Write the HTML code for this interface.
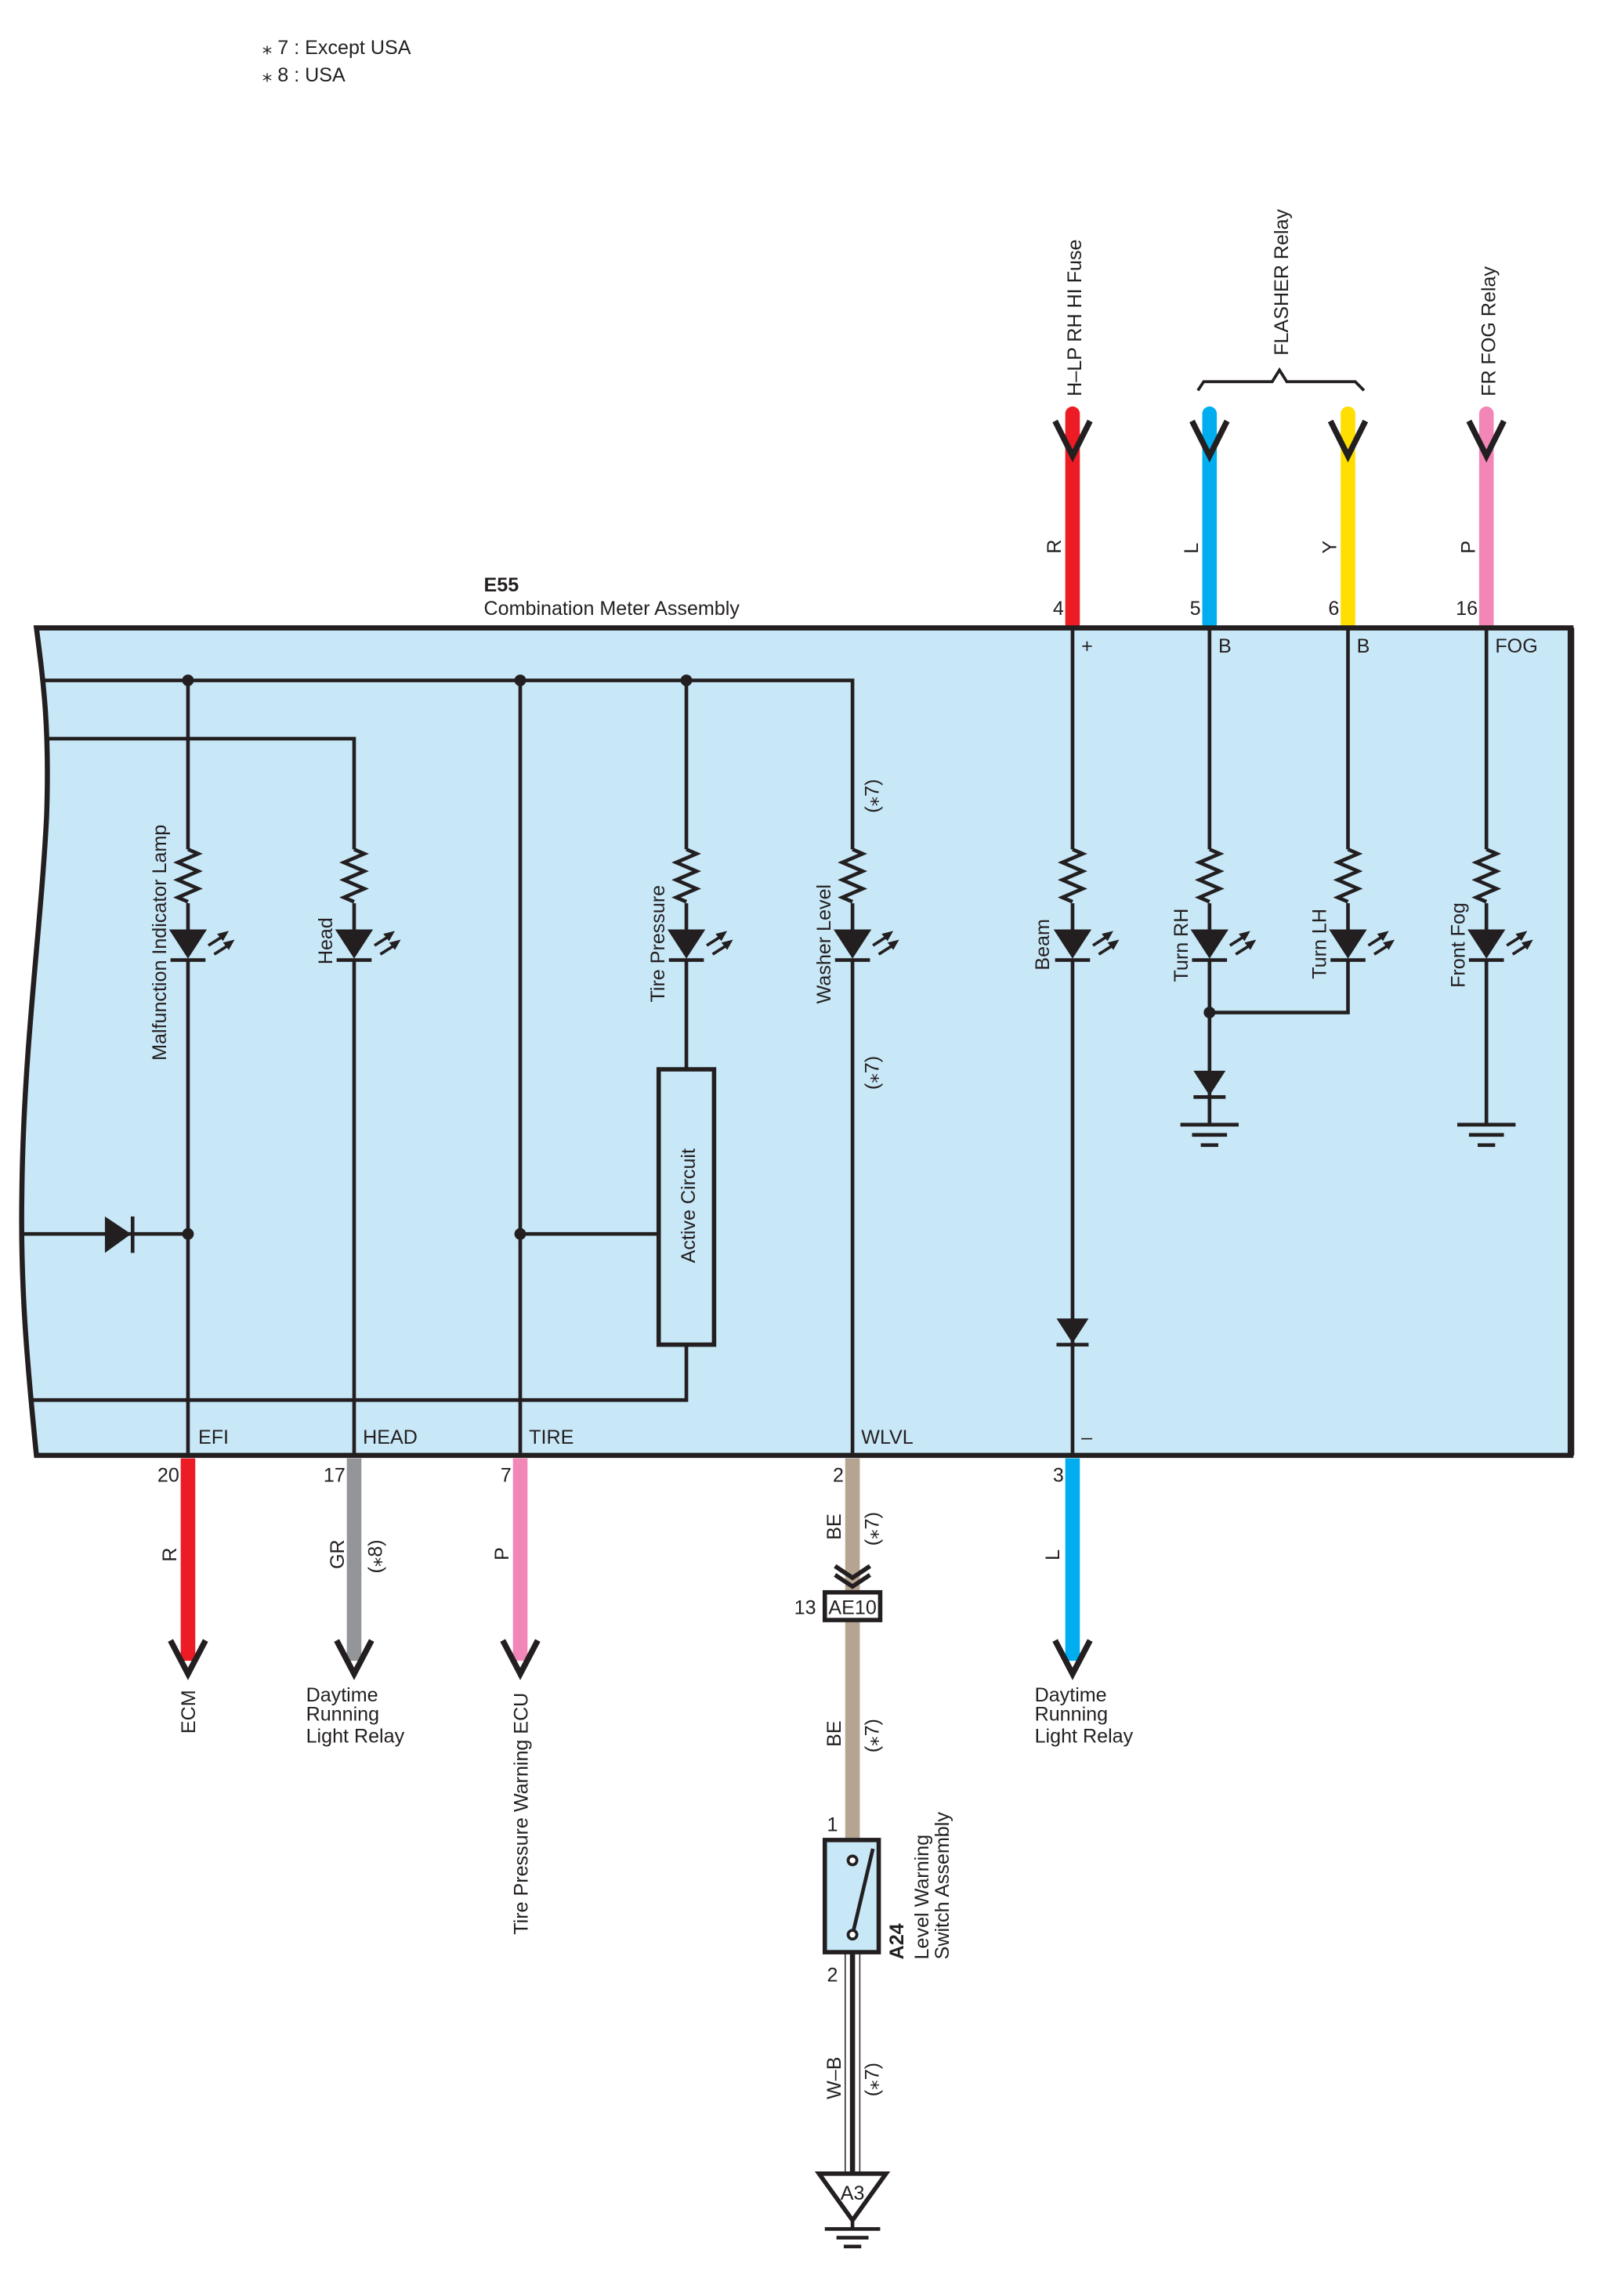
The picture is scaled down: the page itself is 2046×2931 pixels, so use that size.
<!DOCTYPE html>
<html><head><meta charset="utf-8"><style>
html,body{margin:0;padding:0;background:#fff;width:2046px;height:2931px;overflow:hidden}
svg{display:block}
text{font-family:"Liberation Sans",sans-serif;font-size:13.5px;fill:#231f20}
</style></head><body>
<svg width="2046" height="2931" viewBox="0 0 1100 1576" preserveAspectRatio="none" xmlns="http://www.w3.org/2000/svg">
<defs>
<path id="res" d="M0,0 l7,3 l-14,6 l14,6 l-14,6 l14,6 l-14,6 l7,3" fill="none" stroke="#231f20" stroke-width="2.5"/>
<g id="led">
<polygon points="-13,0 13,0 0,20" fill="#231f20"/>
<line x1="-12" y1="21" x2="12" y2="21" stroke="#231f20" stroke-width="2.5"/>
<line x1="14" y1="11" x2="25" y2="4" stroke="#231f20" stroke-width="2"/>
<polygon points="28,1 20,3 24,8" fill="#231f20"/>
<line x1="18" y1="17" x2="29" y2="10" stroke="#231f20" stroke-width="2"/>
<polygon points="32,7 24,9 28,14" fill="#231f20"/>
</g>
<g id="diode">
<polygon points="-11,0 11,0 0,17" fill="#231f20"/>
<line x1="-11" y1="18" x2="11" y2="18" stroke="#231f20" stroke-width="2.5"/>
</g>
<g id="gnd" stroke="#231f20" stroke-width="2.5">
<line x1="-20" y1="0" x2="20" y2="0"/><line x1="-12" y1="7" x2="12" y2="7"/><line x1="-6" y1="14" x2="6" y2="14"/>
</g>
<path id="vtop" d="M-12,289 L0,313 L12,289" fill="none" stroke="#231f20" stroke-width="4"/>
<path id="vbot" d="M-12,1126 L0,1149 L12,1126" fill="none" stroke="#231f20" stroke-width="4"/>
</defs>

<text x="180" y="37">⁎ 7 : Except USA</text>
<text x="180" y="56">⁎ 8 : USA</text>

<!-- top wires -->
<g stroke-linecap="round" stroke-width="10">
<line x1="736" y1="284" x2="736" y2="428" stroke="#ed1c24"/>
<line x1="830" y1="284" x2="830" y2="428" stroke="#00aeef"/>
<line x1="925" y1="284" x2="925" y2="428" stroke="#ffde00"/>
<line x1="1020" y1="284" x2="1020" y2="428" stroke="#f287b7"/>
</g>
<use href="#vtop" x="736"/><use href="#vtop" x="830"/><use href="#vtop" x="925"/><use href="#vtop" x="1020"/>
<path d="M822,268 L826,262 L873,262 L878,254 L883,262 L930,262 L936,268" fill="none" stroke="#231f20" stroke-width="2"/>
<text transform="translate(742,272) rotate(-90)">H–LP RH HI Fuse</text>
<text transform="translate(884,244) rotate(-90)">FLASHER Relay</text>
<text transform="translate(1026,272) rotate(-90)">FR FOG Relay</text>
<text transform="translate(728,380) rotate(-90)">R</text>
<text transform="translate(822,380) rotate(-90)">L</text>
<text transform="translate(917,380) rotate(-90)">Y</text>
<text transform="translate(1012,380) rotate(-90)">P</text>
<text x="730" y="422" text-anchor="end">4</text>
<text x="824" y="422" text-anchor="end">5</text>
<text x="919" y="422" text-anchor="end">6</text>
<text x="1014" y="422" text-anchor="end">16</text>
<text x="332" y="406" font-weight="bold">E55</text>
<text x="332" y="422">Combination Meter Assembly</text>

<!-- bottom wires -->
<g stroke-width="10">
<line x1="129" y1="1001" x2="129" y2="1140" stroke="#ed1c24"/>
<line x1="243" y1="1001" x2="243" y2="1140" stroke="#939598"/>
<line x1="357" y1="1001" x2="357" y2="1140" stroke="#f287b7"/>
<line x1="585" y1="1001" x2="585" y2="1265" stroke="#b5a491"/>
<line x1="736" y1="1001" x2="736" y2="1140" stroke="#00aeef"/>
</g>
<use href="#vbot" x="129"/><use href="#vbot" x="243"/><use href="#vbot" x="357"/><use href="#vbot" x="736"/>

<!-- box -->
<path d="M25,431 L1078,431 L1078,999 L25,999 C18,930 14,880 15,820 C16,720 28,640 32,560 C34,500 30,470 25,431 Z" fill="#c8e8f8" stroke="#231f20" stroke-width="3.5"/>
<line x1="1078" y1="431" x2="1078" y2="999" stroke="#231f20" stroke-width="4.5"/>

<g stroke="#231f20" stroke-width="2.5" fill="none">
<!-- buses -->
<polyline points="30,467 585,467 585,583"/>
<polyline points="33,507 243,507 243,583"/>
<polyline points="20,961 471,961 471,923"/>
<line x1="15" y1="847" x2="129" y2="847"/>
<line x1="357" y1="847" x2="452" y2="847"/>
<!-- columns -->
<line x1="129" y1="467" x2="129" y2="583"/><line x1="129" y1="620" x2="129" y2="640"/><line x1="129" y1="658" x2="129" y2="999"/>
<line x1="243" y1="620" x2="243" y2="640"/><line x1="243" y1="658" x2="243" y2="999"/>
<line x1="357" y1="467" x2="357" y2="999"/>
<line x1="471" y1="467" x2="471" y2="583"/><line x1="471" y1="620" x2="471" y2="640"/><line x1="471" y1="658" x2="471" y2="734"/>
<line x1="585" y1="620" x2="585" y2="640"/><line x1="585" y1="658" x2="585" y2="999"/>
<line x1="736" y1="431" x2="736" y2="583"/><line x1="736" y1="620" x2="736" y2="640"/><line x1="736" y1="658" x2="736" y2="999"/>
<line x1="830" y1="431" x2="830" y2="583"/><line x1="830" y1="620" x2="830" y2="640"/><line x1="830" y1="658" x2="830" y2="772"/>
<line x1="925" y1="431" x2="925" y2="583"/><line x1="925" y1="620" x2="925" y2="640"/><polyline points="925,658 925,695 830,695"/>
<line x1="1020" y1="431" x2="1020" y2="583"/><line x1="1020" y1="620" x2="1020" y2="640"/><line x1="1020" y1="658" x2="1020" y2="772"/>
<rect x="452" y="734" width="38" height="189" stroke-width="3"/>
</g>
<use href="#res" x="129" y="583"/><use href="#res" x="243" y="583"/><use href="#res" x="471" y="583"/><use href="#res" x="585" y="583"/>
<use href="#res" x="736" y="583"/><use href="#res" x="830" y="583"/><use href="#res" x="925" y="583"/><use href="#res" x="1020" y="583"/>
<use href="#led" x="129" y="638"/><use href="#led" x="243" y="638"/><use href="#led" x="471" y="638"/><use href="#led" x="585" y="638"/>
<use href="#led" x="736" y="638"/><use href="#led" x="830" y="638"/><use href="#led" x="925" y="638"/><use href="#led" x="1020" y="638"/>
<use href="#diode" x="736" y="905"/><use href="#diode" x="830" y="735"/>
<use href="#gnd" x="830" y="772"/><use href="#gnd" x="1020" y="772"/>
<polygon points="72,835 72,860 90,847" fill="#231f20"/>
<line x1="91" y1="835" x2="91" y2="860" stroke="#231f20" stroke-width="2.5"/>
<g fill="#231f20">
<circle cx="129" cy="467" r="4"/><circle cx="357" cy="467" r="4"/><circle cx="471" cy="467" r="4"/>
<circle cx="129" cy="847" r="4"/><circle cx="357" cy="847" r="4"/><circle cx="830" cy="695" r="4"/>
</g>

<text transform="translate(114,728) rotate(-90)">Malfunction Indicator Lamp</text>
<text transform="translate(228,662) rotate(-90)">Head</text>
<text transform="translate(456,688) rotate(-90)">Tire Pressure</text>
<text transform="translate(570,689) rotate(-90)">Washer Level</text>
<text transform="translate(603,558) rotate(-90)">(⁎7)</text>
<text transform="translate(603,748) rotate(-90)">(⁎7)</text>
<text transform="translate(720,666) rotate(-90)">Beam</text>
<text transform="translate(815,674) rotate(-90)">Turn RH</text>
<text transform="translate(910,672) rotate(-90)">Turn LH</text>
<text transform="translate(1005,678) rotate(-90)">Front Fog</text>
<text transform="translate(477,867) rotate(-90)">Active Circuit</text>
<text x="742" y="448">+</text>
<text x="836" y="448">B</text>
<text x="931" y="448">B</text>
<text x="1026" y="448">FOG</text>
<text x="136" y="991">EFI</text>
<text x="249" y="991">HEAD</text>
<text x="363" y="991">TIRE</text>
<text x="591" y="991">WLVL</text>
<text x="742" y="991">–</text>

<!-- bottom labels -->
<text x="123" y="1017" text-anchor="end">20</text>
<text x="237" y="1017" text-anchor="end">17</text>
<text x="351" y="1017" text-anchor="end">7</text>
<text x="579" y="1017" text-anchor="end">2</text>
<text x="730" y="1017" text-anchor="end">3</text>
<text transform="translate(121,1072) rotate(-90)">R</text>
<text transform="translate(236,1077) rotate(-90)">GR</text>
<text transform="translate(262,1080) rotate(-90)">(⁎8)</text>
<text transform="translate(349,1071) rotate(-90)">P</text>
<text transform="translate(727,1071) rotate(-90)">L</text>
<text transform="translate(134,1190) rotate(-90)">ECM</text>
<text transform="translate(362,1328) rotate(-90)">Tire Pressure Warning ECU</text>
<text x="210" y="1168">Daytime</text><text x="210" y="1181">Running</text><text x="210" y="1196">Light Relay</text>
<text x="710" y="1168">Daytime</text><text x="710" y="1181">Running</text><text x="710" y="1196">Light Relay</text>

<!-- BE path -->
<text transform="translate(577,1057) rotate(-90)">BE</text>
<text transform="translate(603,1061) rotate(-90)">(⁎7)</text>
<path d="M573,1075 L585,1083 L597,1075 M573,1081 L585,1089 L597,1081" fill="none" stroke="#231f20" stroke-width="3"/>
<rect x="566" y="1093" width="38" height="19" fill="#fff" stroke="#231f20" stroke-width="3"/>
<text x="585" y="1108" text-anchor="middle">AE10</text>
<text x="560" y="1108" text-anchor="end">13</text>
<text transform="translate(577,1199) rotate(-90)">BE</text>
<text transform="translate(603,1203) rotate(-90)">(⁎7)</text>
<text x="575" y="1257" text-anchor="end">1</text>
<rect x="566" y="1263" width="37" height="77" fill="#c8e8f8" stroke="#231f20" stroke-width="3"/>
<line x1="585" y1="1328" x2="599" y2="1269" stroke="#231f20" stroke-width="2.5"/>
<circle cx="585" cy="1277" r="3" fill="#fff" stroke="#231f20" stroke-width="2"/>
<circle cx="585" cy="1328" r="3" fill="#fff" stroke="#231f20" stroke-width="2"/>
<text x="575" y="1360" text-anchor="end">2</text>
<text transform="translate(620,1345) rotate(-90)" font-weight="bold">A24</text>
<text transform="translate(637,1345) rotate(-90)">Level Warning</text>
<text transform="translate(651,1345) rotate(-90)">Switch Assembly</text>
<line x1="580" y1="1340" x2="580" y2="1493" stroke="#231f20" stroke-width="0.8"/>
<line x1="590" y1="1340" x2="590" y2="1493" stroke="#231f20" stroke-width="0.8"/>
<line x1="585" y1="1340" x2="585" y2="1493" stroke="#231f20" stroke-width="3.5"/>
<text transform="translate(577,1441) rotate(-90)">W–B</text>
<text transform="translate(603,1439) rotate(-90)">(⁎7)</text>
<polygon points="562,1492 608,1492 585,1524" fill="#fff" stroke="#231f20" stroke-width="3"/>
<text x="585" y="1510" text-anchor="middle">A3</text>
<g stroke="#231f20" stroke-width="2.5">
<line x1="585" y1="1524" x2="585" y2="1530"/>
<line x1="566" y1="1530" x2="604" y2="1530"/><line x1="574" y1="1536" x2="596" y2="1536"/><line x1="579" y1="1542" x2="591" y2="1542"/>
</g>
</svg>
</body></html>
